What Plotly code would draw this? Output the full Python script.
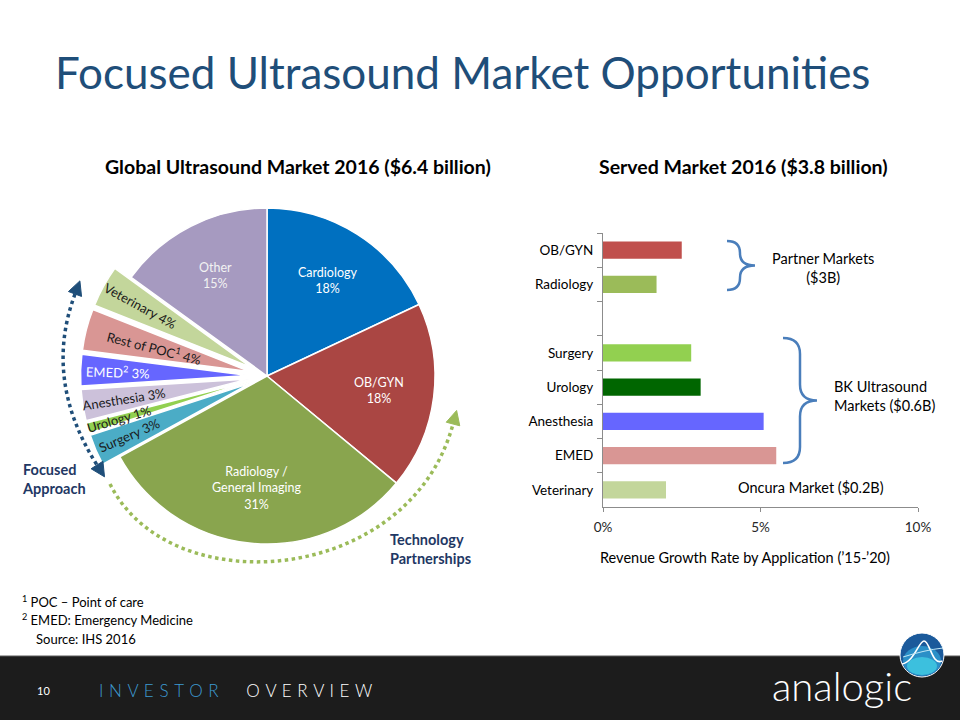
import math
import plotly.graph_objects as go

W, H = 960, 720
FONT = "Lato, 'Open Sans', sans-serif"

# ---------------- data ----------------
pie_names = ["Cardiology", "OB/GYN", "Radiology /<br>General Imaging", "Surgery", "Urology",
             "Anesthesia", "EMED<sup>2</sup>", "Rest of POC<sup>1</sup>", "Veterinary", "Other"]
pie_ids = ["Cardiology", "OB/GYN", "Radiology / General Imaging", "Surgery", "Urology",
           "Anesthesia", "EMED", "Rest of POC", "Veterinary", "Other"]
pie_values = [18, 18, 31, 3, 1, 3, 3, 4, 4, 15]
pie_exploded = [False, False, False, True, True, True, True, True, True, False]

bar_categories = ["OB/GYN", "Radiology", " ", "Surgery", "Urology", "Anesthesia", "EMED", "Veterinary"]
bar_values = [2.5, 1.7, None, 2.8, 3.1, 5.1, 5.5, 2.0]

# ---------------- styles ----------------
pie_colors = ["#0070C0", "#AA4643", "#89A54E", "#4BACC6", "#92D050",
              "#CCC1DA", "#6666FF", "#D99694", "#C3D69B", "#A69AC0"]
pie_label_colors = ["#FFFFFF", "#FFFFFF", "#FFFFFF", "#1a1a1a", "#1a1a1a",
                    "#1a1a1a", "#FFFFFF", "#1a1a1a", "#1a1a1a", "#F2F2F2"]
pie_label_radius = [0.67, 0.67, 0.67, 0.89, 0.92, 0.86, 0.89, 0.69, 0.86, 0.67]
bar_colors = ["#C0504D", "#9BBB59", "#FFFFFF", "#92D050", "#006600", "#6666FF", "#D99694", "#C3D69B"]

PIE_CX, PIE_CY, PIE_R, PULL = 267, 376, 168, 0.11


def px(x, y):
    return x / W, 1 - y / H


def path_from(points_cmds):
    out = []
    for cmd, pts in points_cmds:
        s = cmd
        s += " ".join("%.5f,%.5f" % px(*p) for p in pts)
        out.append(s)
    return " ".join(out)


fig = go.Figure()

half = PIE_R * (1 + PULL)
fig.add_trace(go.Pie(
    labels=pie_ids, values=pie_values, sort=False, direction="clockwise", rotation=0,
    marker=dict(colors=pie_colors, line=dict(color="white", width=1.5)),
    pull=[PULL if e else 0 for e in pie_exploded],
    textinfo="none", hoverinfo="label+percent", showlegend=False, automargin=False,
    domain=dict(x=[(PIE_CX - half) / W, (PIE_CX + half) / W],
                y=[1 - (PIE_CY + half) / H, 1 - (PIE_CY - half) / H]),
))

fig.add_trace(go.Bar(
    y=bar_categories, x=bar_values, orientation="h",
    marker=dict(color=bar_colors, line=dict(width=0)),
    xaxis="x", yaxis="y", showlegend=False, hoverinfo="y+x",
))

annotations = []
shapes = []


def ann(text, x, y, size, color="#000000", bold=False, xanchor="center", yanchor="middle",
        angle=0, align="center", weight=None):
    xp, yp = px(x, y)
    f = dict(family=FONT, size=size, color=color)
    if bold:
        f["weight"] = "bold"
    if weight is not None:
        f["weight"] = weight
    annotations.append(dict(text=text, x=xp, y=yp, xref="paper", yref="paper",
                            xanchor=xanchor, yanchor=yanchor, showarrow=False,
                            font=f, textangle=angle, align=align))


# pie labels computed from the data
total = float(sum(pie_values))
cum = 0.0
for i, v in enumerate(pie_values):
    mid = (cum + v / 2.0) / total
    cum += v
    phi = math.radians(90 - 360 * mid)
    d = pie_label_radius[i] * PIE_R
    x = PIE_CX + d * math.cos(phi)
    y = PIE_CY - d * math.sin(phi)
    if pie_exploded[i]:
        ang = 180 - math.degrees(phi)
        ang = ((ang + 180) % 360) - 180
        ann("%s %d%%" % (pie_names[i], v), x, y, 13, pie_label_colors[i], angle=ang)
    else:
        ann("%s<br>%d%%" % (pie_names[i], v), x, y, 12.5, pie_label_colors[i])

# titles
ann("Focused Ultrasound Market Opportunities", 53, 72, 44, "#1F4E79", xanchor="left")
ann("Global Ultrasound Market 2016 ($6.4 billion)", 298, 166, 19.5, "#000000", bold=True)
ann("Served Market 2016 ($3.8 billion)", 743, 166, 19.5, "#000000", bold=True)

# bar chart notes
ann("Partner Markets<br>($3B)", 823, 268, 14.5, "#000000")
ann("BK Ultrasound<br>Markets ($0.6B)", 832, 396, 14.5, "#000000", xanchor="left", align="left")
ann("Oncura Market ($0.2B)", 811, 487, 14.5, "#000000")
ann("Revenue Growth Rate by Application (\u201915-\u201920)", 745, 557, 14.5, "#000000")

# pie side notes
ann("<b>Focused<br>Approach</b>", 20, 479, 14.5, "#1F3864", xanchor="left", align="left")
ann("<b>Technology<br>Partnerships</b>", 388, 549, 14.5, "#1F3864", xanchor="left", align="left")

# footnotes
ann("<sup>1</sup> POC \u2013 Point of care", 20, 601, 13, "#000000", xanchor="left")
ann("<sup>2</sup> EMED: Emergency Medicine", 20, 619, 13, "#000000", xanchor="left")
ann("Source: IHS 2016", 34, 639, 13, "#000000", xanchor="left")


# braces
def brace(xl, xs, xt, yt, yb, r):
    ym = (yt + yb) / 2.0
    return path_from([
        ("M", [(xl, yt)]),
        ("Q", [(xs, yt), (xs, yt + r)]),
        ("L", [(xs, ym - r)]),
        ("Q", [(xs, ym), (xt, ym)]),
        ("Q", [(xs, ym), (xs, ym + r)]),
        ("L", [(xs, yb - r)]),
        ("Q", [(xs, yb), (xl, yb)]),
    ])


for b in [(727, 740, 755, 241, 290, 12), (783, 800, 817, 338, 463, 16)]:
    shapes.append(dict(type="path", xref="paper", yref="paper", path=brace(*b),
                       line=dict(color="#4A7EBB", width=2.5)))


def arrowhead(tip_base, direction, L, w, color):
    bx, by = tip_base
    dx, dy = direction
    n = math.hypot(dx, dy)
    dx, dy = dx / n, dy / n
    tip = (bx + L * dx, by + L * dy)
    p1 = (bx - w * dy, by + w * dx)
    p2 = (bx + w * dy, by - w * dx)
    shapes.append(dict(type="path", xref="paper", yref="paper",
                       path=path_from([("M", [tip]), ("L", [p1]), ("L", [p2])]) + " Z",
                       fillcolor=color, line=dict(color=color, width=1)))


# blue dotted arc with two arrowheads
BLUE = "#1F4E79"
b0, bc, b1 = (75, 294), (43, 380), (97, 465)
shapes.append(dict(type="path", xref="paper", yref="paper",
                   path=path_from([("M", [b0]), ("Q", [bc, b1])]),
                   line=dict(color=BLUE, width=3.5, dash="dot")))
arrowhead(b0, (b0[0] - bc[0], b0[1] - bc[1]), 14, 7, BLUE)
arrowhead(b1, (b1[0] - bc[0], b1[1] - bc[1]), 14, 7, BLUE)

# green dotted arc with arrowhead
GREEN = "#9BBB59"
g0, gc1, gc2, g1 = (110, 484), (170, 605), (410, 585), (453, 424)
shapes.append(dict(type="path", xref="paper", yref="paper",
                   path=path_from([("M", [g0]), ("C", [gc1, gc2, g1])]),
                   line=dict(color=GREEN, width=3.5, dash="dot")))
arrowhead(g1, (g1[0] - gc2[0], g1[1] - gc2[1]), 14, 7, GREEN)

# footer
x0, y0 = px(0, 656)
x1, y1 = px(W, H)
shapes.append(dict(type="rect", xref="paper", yref="paper", x0=x0, y0=y1, x1=x1, y1=y0,
                   fillcolor="#1C1C1C", line=dict(width=0), layer="below"))
shapes.append(dict(type="line", xref="paper", yref="paper", x0=x0, x1=x1, y0=y0, y1=y0,
                   line=dict(color="#5A5A5A", width=1)))

sp = "\u00a0\u200a"
ann("10", 43, 690, 11, "#FFFFFF")
ann("<span style='color:#3D9AD1'>" + sp.join("INVESTOR") + "</span>" + "\u00a0" * 6
    + sp.join("OVERVIEW"), 97, 690, 17, "#FFFFFF", xanchor="left", weight=300)
ann("analogic", 842, 686, 40, "#FFFFFF", weight=300)


# globe
def circ(cx, cy, rx, ry, fill, line=None):
    a0, b0_ = px(cx - rx, cy + ry)
    a1, b1_ = px(cx + rx, cy - ry)
    shapes.append(dict(type="circle", xref="paper", yref="paper", x0=a0, y0=b0_, x1=a1, y1=b1_,
                       fillcolor=fill, line=line or dict(width=0)))


circ(922, 655, 22, 22, "#1B5A9B", dict(color="#FFFFFF", width=1))
circ(922, 661, 19, 15, "#2A8FC7")
circ(922, 666, 15, 9, "#3CC0DE")
shapes.append(dict(type="path", xref="paper", yref="paper",
                   path=path_from([("M", [(902, 664)]), ("C", [(914, 662), (919, 641), (924, 641)]),
                                   ("C", [(930, 641), (932, 666), (942, 661)])]),
                   line=dict(color="#FFFFFF", width=1.6)))
shapes.append(dict(type="path", xref="paper", yref="paper",
                   path=path_from([("M", [(903, 657)]), ("Q", [(925, 650), (943, 648)])]),
                   line=dict(color="#BFE6F5", width=1)))

fig.update_layout(
    width=W, height=H, autosize=False,
    margin=dict(l=0, r=0, t=0, b=0, pad=0, autoexpand=False),
    paper_bgcolor="white", plot_bgcolor="white",
    font=dict(family=FONT, size=13, color="#000000"),
    bargap=0.5, showlegend=False,
    xaxis=dict(domain=[603 / W, 918 / W], range=[0, 10], dtick=5, ticksuffix="%",
               showline=True, linecolor="#8C8C8C", linewidth=1, ticks="outside", ticklen=4,
               tickcolor="#8C8C8C", showgrid=False, zeroline=False, anchor="y",
               tickfont=dict(family=FONT, size=13.5, color="#262626"), ticklabelstandoff=4,
               fixedrange=True, automargin=False),
    yaxis=dict(domain=[1 - 507 / H, 1 - 233 / H], type="category", categoryorder="array",
               categoryarray=bar_categories, autorange="reversed", tickson="boundaries",
               ticks="outside", ticklen=5, tickcolor="#8C8C8C", showline=True,
               linecolor="#8C8C8C", linewidth=1, showgrid=False, zeroline=False, anchor="x",
               tickfont=dict(family=FONT, size=13.5, color="#000000"), ticklabelstandoff=6,
               fixedrange=True, automargin=False),
    annotations=annotations,
    shapes=shapes,
)

POST = (
    "document.documentElement.style.margin='0';"
    "document.body.style.margin='0';document.body.style.padding='0';"
    "document.body.style.overflow='hidden';"
    "var gd=document.getElementById('{plot_id}');"
    "gd.style.width='960px';gd.style.height='720px';"
    "Plotly.relayout(gd,{width:960,height:720,autosize:false});"
)

fig.write_html(
    "out.html",
    config={"displayModeBar": False, "responsive": False},
    post_script=POST,
)
